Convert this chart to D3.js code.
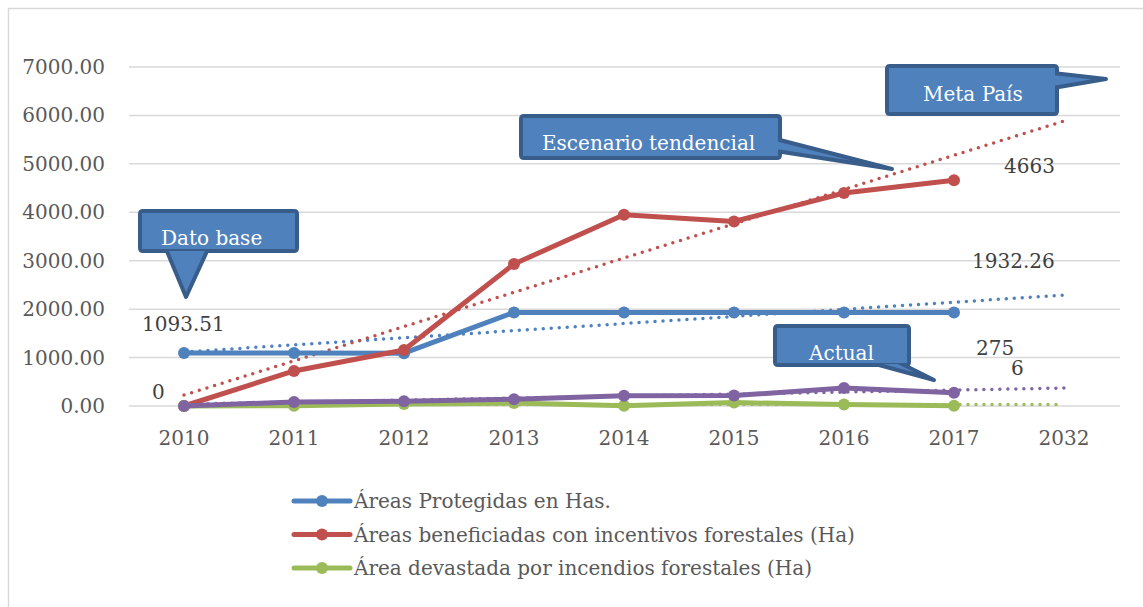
<!DOCTYPE html>
<html>
<head>
<meta charset="utf-8">
<script src="https://cdnjs.cloudflare.com/ajax/libs/d3/7.8.5/d3.min.js"></script>
<style>
  body { margin: 0; background: #fff; }
  svg text { font-family: "DejaVu Serif", "Liberation Serif", serif; }
</style>
</head>
<body>
<svg width="1143" height="607"></svg>
<script>
// data
var years = ["2010", "2011", "2012", "2013", "2014", "2015", "2016", "2017", "2032"];
var yTicks = [0, 1000, 2000, 3000, 4000, 5000, 6000, 7000];

var protegidas = [1093.51, 1093.51, 1090, 1932.26, 1932.26, 1932.26, 1932.26, 1932.26];
var incentivos = [0, 723, 1156, 2932, 3950, 3810, 4398, 4663];
var devastada  = [0, 5, 40, 60, 6, 70, 30, 6];
var actual     = [0, 83, 100, 140, 210, 215, 370, 275];

// linear trend lines: value at 2010 and at 2032
var trendProtegidas = [1115, 2290];
var trendIncentivos = [225, 5885];
var trendDevastada  = [30, 30];
var trendActual     = [40, 370];

var svg = d3.select("svg"),
    width = +svg.attr("width"),
    height = +svg.attr("height");

var x = d3.scalePoint().domain(years).range([129, 1119]).padding(0.5);
var y = d3.scaleLinear().domain([0, 7000]).range([406, 67]);

var series = [
    { name: "Áreas Protegidas en Has.", values: protegidas, trend: trendProtegidas, color: "#4f81bd", legend: true },
    { name: "Áreas beneficiadas con incentivos forestales (Ha)", values: incentivos, trend: trendIncentivos, color: "#c0504d", legend: true },
    { name: "Área devastada por incendios forestales (Ha)", values: devastada, trend: trendDevastada, color: "#9bbb59", legend: true },
    { name: "Actual", values: actual, trend: trendActual, color: "#8064a2", legend: false }
];

// outer frame
svg.append("rect")
    .attr("x", 8.5).attr("y", 8.5)
    .attr("width", 1300).attr("height", 800)
    .attr("fill", "none").attr("stroke", "#d9d9d9").attr("stroke-width", 1.5);

// gridlines
svg.append("g")
    .selectAll("line")
    .data(yTicks)
    .enter().append("line")
    .attr("x1", 129).attr("x2", 1120)
    .attr("y1", function (d) { return y(d); })
    .attr("y2", function (d) { return y(d); })
    .attr("stroke", "#d9d9d9").attr("stroke-width", 1.5);

// y axis labels
svg.append("g")
    .selectAll("text")
    .data(yTicks)
    .enter().append("text")
    .attr("x", 105)
    .attr("y", function (d) { return y(d) + 7; })
    .attr("text-anchor", "end")
    .attr("font-size", 20)
    .attr("fill", "#595959")
    .text(function (d) { return d3.format(".2f")(d); });

// x axis labels
svg.append("g")
    .selectAll("text")
    .data(years)
    .enter().append("text")
    .attr("x", function (d) { return x(d); })
    .attr("y", 445)
    .attr("text-anchor", "middle")
    .attr("font-size", 20)
    .attr("fill", "#595959")
    .text(function (d) { return d; });

// trend lines
svg.append("g")
    .selectAll("line")
    .data(series)
    .enter().append("line")
    .attr("x1", x(years[0]))
    .attr("x2", x(years[years.length - 1]))
    .attr("y1", function (d) { return y(d.trend[0]); })
    .attr("y2", function (d) { return y(d.trend[1]); })
    .attr("stroke", function (d) { return d.color; })
    .attr("stroke-width", 3.5)
    .attr("stroke-linecap", "round")
    .attr("stroke-dasharray", "0,8");

var line = d3.line()
    .x(function (d, i) { return x(years[i]); })
    .y(function (d) { return y(d); });

var g = svg.append("g")
    .selectAll("g")
    .data(series)
    .enter().append("g");

g.append("path")
    .attr("d", function (d) { return line(d.values); })
    .attr("fill", "none")
    .attr("stroke", function (d) { return d.color; })
    .attr("stroke-width", 5)
    .attr("stroke-linejoin", "round");

g.selectAll("circle")
    .data(function (d) { return d.values.map(function (v, i) { return { v: v, i: i, color: d.color }; }); })
    .enter().append("circle")
    .attr("cx", function (d) { return x(years[d.i]); })
    .attr("cy", function (d) { return y(d.v); })
    .attr("r", 6)
    .attr("fill", function (d) { return d.color; });

// data labels
var labels = [
    { text: "1093.51", x: 142, y: 331 },
    { text: "0", x: 152, y: 399 },
    { text: "4663", x: 1004, y: 173 },
    { text: "1932.26", x: 972, y: 268 },
    { text: "275", x: 976, y: 355 },
    { text: "6", x: 1011, y: 375 }
];
svg.append("g")
    .selectAll("text")
    .data(labels)
    .enter().append("text")
    .attr("x", function (d) { return d.x; })
    .attr("y", function (d) { return d.y; })
    .attr("font-size", 20)
    .attr("fill", "#404040")
    .text(function (d) { return d.text; });

// callouts
var callouts = [
    { text: "Dato base", x0: 140, y0: 211, x1: 297, y1: 251, tx: 161, ty: 245,
      ptr: [[166, 249], [186, 297], [208, 249]] },
    { text: "Escenario tendencial", x0: 521, y0: 116, x1: 780, y1: 158, tx: 542, ty: 150,
      ptr: [[776, 139], [892, 169], [776, 151]] },
    { text: "Meta País", x0: 887, y0: 66, x1: 1057, y1: 114, tx: 923, ty: 101,
      ptr: [[1053, 73], [1106, 79], [1053, 88]] },
    { text: "Actual", x0: 775, y0: 326, x1: 909, y1: 365, tx: 809, ty: 360,
      ptr: [[868, 362], [934, 380], [898, 362]] }
];

var co = svg.append("g")
    .selectAll("g")
    .data(callouts)
    .enter().append("g");

co.append("path")
    .attr("d", function (d) {
        var r = 3;
        var p = "M" + (d.x0 + r) + "," + d.y0 + "H" + (d.x1 - r) + "Q" + d.x1 + "," + d.y0 + " " + d.x1 + "," + (d.y0 + r) +
            "V" + (d.y1 - r) + "Q" + d.x1 + "," + d.y1 + " " + (d.x1 - r) + "," + d.y1 +
            "H" + (d.x0 + r) + "Q" + d.x0 + "," + d.y1 + " " + d.x0 + "," + (d.y1 - r) +
            "V" + (d.y0 + r) + "Q" + d.x0 + "," + d.y0 + " " + (d.x0 + r) + "," + d.y0 + "Z";
        return p;
    })
    .attr("fill", "#4f81bd")
    .attr("stroke", "#385d8a")
    .attr("stroke-width", 4);

co.append("path")
    .attr("d", function (d) { return "M" + d.ptr.map(function (p) { return p.join(","); }).join("L") + "Z"; })
    .attr("fill", "#4f81bd")
    .attr("stroke", "#385d8a")
    .attr("stroke-width", 4)
    .attr("stroke-linejoin", "round");

// cover the inner border where pointer joins the box
co.append("rect")
    .attr("x", function (d) { return d.x0 + 2; })
    .attr("y", function (d) { return d.y0 + 2; })
    .attr("width", function (d) { return d.x1 - d.x0 - 4; })
    .attr("height", function (d) { return d.y1 - d.y0 - 4; })
    .attr("fill", "#4f81bd");

co.append("text")
    .attr("x", function (d) { return d.tx; })
    .attr("y", function (d) { return d.ty; })
    .attr("font-size", 20)
    .attr("fill", "#fff")
    .text(function (d) { return d.text; });

// legend
var leg = svg.append("g")
    .selectAll("g")
    .data(series.filter(function (d) { return d.legend; }))
    .enter().append("g")
    .attr("transform", function (d, i) { return "translate(0," + (501 + i * 33.5) + ")"; });

leg.append("line")
    .attr("x1", 294).attr("x2", 350)
    .attr("stroke", function (d) { return d.color; })
    .attr("stroke-width", 5)
    .attr("stroke-linecap", "round");

leg.append("circle")
    .attr("cx", 322).attr("r", 6)
    .attr("fill", function (d) { return d.color; });

leg.append("text")
    .attr("x", 354).attr("y", 7)
    .attr("font-size", 20)
    .attr("fill", "#595959")
    .text(function (d) { return d.name; });
</script>
</body>
</html>
